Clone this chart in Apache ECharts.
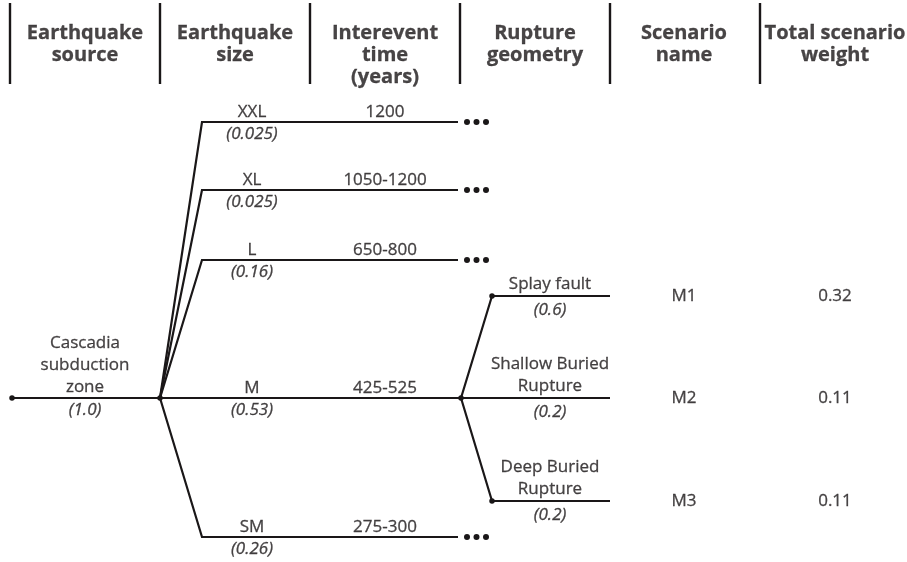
<!DOCTYPE html>
<html>
<head>
<meta charset="utf-8">
<script src="https://cdn.jsdelivr.net/npm/echarts@6/dist/echarts.min.js"></script>
<style>
html,body{margin:0;padding:0;background:#fff;}
#chart{width:907px;height:562px;}
</style>
</head>
<body>
<div id="chart"></div>
<script>
// ---- Data ----
const headers = ['Earthquake\nsource', 'Earthquake\nsize', 'Interevent\ntime\n(years)', 'Rupture\ngeometry', 'Scenario\nname', 'Total scenario\nweight'];
const sourceName = 'Cascadia\nsubduction\nzone';
const sourceWeight = '(1.0)';
const sizes = ['XXL', 'XL', 'L', 'M', 'SM'];
const sizeWeights = ['(0.025)', '(0.025)', '(0.16)', '(0.53)', '(0.26)'];
const intervals = ['1200', '1050-1200', '650-800', '425-525', '275-300'];
const geometries = ['Splay fault', 'Shallow Buried\nRupture', 'Deep Buried\nRupture'];
const geomWeights = ['(0.6)', '(0.2)', '(0.2)'];
const scenarios = ['M1', 'M2', 'M3'];
const totalWeights = ['0.32', '0.11', '0.11'];
const expandedSize = 'M';

// ---- Layout (pixel-like coordinate space) ----
const INK = '#1a1718';
const FONT = '"Open Sans", sans-serif';
const colSep = [10, 160, 310, 460, 610, 760];
const colCenter = [85, 235, 385, 535, 684, 835];
const rowY = [122, 190, 260, 398, 537];
const geomRowY = [296, 398, 501];
const rootX = 12, node1X = 160, cornerX = 202, endX = 458, node2X = 461, corner2X = 492, end2X = 610;
const sizeLabelX = 252, intervalX = 385, geomLabelX = 550;

const mainY = rowY[sizes.indexOf(expandedSize)];

// edges
const edges = [];
colSep.forEach(x => edges.push({coords: [[x, 3], [x, 84]], lineStyle: {width: 2.4}}));
edges.push({coords: [[rootX, mainY], [node1X, mainY]]});
sizes.forEach((s, i) => {
  if (s === expandedSize) edges.push({coords: [[node1X, mainY], [node2X, mainY]]});
  else edges.push({coords: [[node1X, mainY], [cornerX, rowY[i]], [endX, rowY[i]]]});
});
geometries.forEach((g, j) => {
  if (geomRowY[j] === mainY) edges.push({coords: [[node2X, mainY], [end2X, mainY]]});
  else edges.push({coords: [[node2X, mainY], [corner2X, geomRowY[j]], [end2X, geomRowY[j]]]});
});

// dots
const dots = [[rootX, mainY], [node1X, mainY], [node2X, mainY]];
geometries.forEach((g, j) => { if (geomRowY[j] !== mainY) dots.push([corner2X, geomRowY[j]]); });
const ellipsis = [];
sizes.forEach((s, i) => {
  if (s !== expandedSize) [467, 476.5, 486].forEach(x => ellipsis.push([x, rowY[i]]));
});

// texts
const texts = [];
function addText(x, y, str, opt) {
  texts.push({value: [x, y], label: Object.assign({formatter: str}, opt)});
}
const reg = {fontSize: 17, lineHeight: 22};
const ital = {fontSize: 17, lineHeight: 22, fontStyle: 'italic'};
headers.forEach((h, i) => addText(colCenter[i], 22, h, {fontSize: 20, fontWeight: 'bold', lineHeight: 22, position: [0, 0], align: 'center', verticalAlign: 'top'}));
addText(85, 365, sourceName, reg);
addText(85, mainY + 12, sourceWeight, ital);
sizes.forEach((s, i) => {
  addText(sizeLabelX, rowY[i] - 10, s, reg);
  addText(sizeLabelX, rowY[i] + 12, sizeWeights[i], ital);
  addText(intervalX, rowY[i] - 10, intervals[i], reg);
});
geometries.forEach((g, j) => {
  const lines = g.split('\n').length;
  addText(geomLabelX, geomRowY[j] - 12 - (lines - 1) * 11, g, reg);
  addText(geomLabelX, geomRowY[j] + 14, geomWeights[j], ital);
  addText(colCenter[4], geomRowY[j], scenarios[j], reg);
  addText(colCenter[5], geomRowY[j], totalWeights[j], reg);
});

const chart = echarts.init(document.getElementById('chart'));
chart.setOption({
  animation: false,
  backgroundColor: '#fff',
  textStyle: {fontFamily: FONT, color: INK},
  grid: {left: 0, right: 0, top: 0, bottom: 0},
  xAxis: {type: 'value', min: 0, max: 907, show: false},
  yAxis: {type: 'value', min: 0, max: 562, inverse: true, show: false},
  series: [
    {type: 'lines', coordinateSystem: 'cartesian2d', polyline: true, silent: true,
     lineStyle: {color: INK, width: 2.2, opacity: 1}, data: edges},
    {type: 'scatter', symbol: 'circle', symbolSize: 5.5, itemStyle: {color: INK, opacity: 1}, silent: true, data: dots},
    {type: 'scatter', symbol: 'circle', symbolSize: 6, itemStyle: {color: INK, opacity: 1}, silent: true, data: ellipsis},
    {type: 'scatter', symbolSize: 0, silent: true, data: texts,
     label: {show: true, position: 'inside', color: INK, fontFamily: FONT, align: 'center', verticalAlign: 'middle',
             textBorderColor: INK, textBorderWidth: 0.3}}
  ]
});
</script>
</body>
</html>
